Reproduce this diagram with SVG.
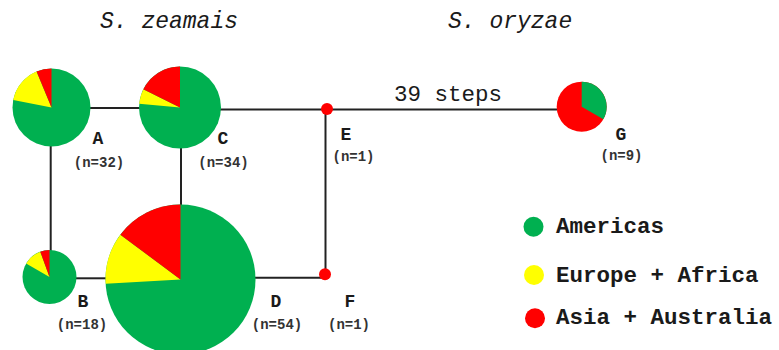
<svg xmlns="http://www.w3.org/2000/svg" width="779" height="350" viewBox="0 0 779 350">
<style>
.g{fill:#00b050}.y{fill:#ffff00}.r{fill:#ff0000}
.ln{stroke:#222;stroke-width:2;fill:none}
.t{font-family:"Liberation Mono","Courier New",monospace;fill:#1a1a1a}
.lab{font-size:18px;font-weight:bold;text-anchor:middle}
.n{font-size:14px;font-weight:bold;text-anchor:middle;fill:#333}
.leg{font-size:22.5px;font-weight:bold}
.ttl{font-size:23px;font-style:italic}
</style>
<rect width="779" height="350" fill="#fff"/>
<text class="t ttl" x="100" y="28">S. zeamais</text>
<text class="t ttl" x="448" y="28">S. oryzae</text>
<g id="connectors">
<line class="ln" x1="90" y1="108" x2="140" y2="108"/>
<line class="ln" x1="220" y1="109.5" x2="557" y2="109.5"/>
<line class="ln" x1="50.7" y1="146" x2="50.7" y2="251"/>
<line class="ln" x1="181" y1="148" x2="181" y2="205"/>
<line class="ln" x1="76" y1="278.3" x2="106" y2="278.3"/>
<line class="ln" x1="255" y1="277.7" x2="325" y2="277.7"/>
<line class="ln" x1="325.5" y1="109" x2="325.5" y2="274"/>
<text class="t" x="448" y="101" font-size="22.5" text-anchor="middle">39 steps</text>
</g>
<g id="node-A">
<circle class="g" cx="51.5" cy="107.5" r="39"/>
<path class="y" d="M51.5,107.5 L13.25,99.89 A39,39 0 0 1 36.58,71.47 Z"/>
<path class="r" d="M51.5,107.5 L36.58,71.47 A39,39 0 0 1 51.5,68.5 Z"/>
<text class="t lab" x="98" y="144">A</text>
<text class="t n" x="99" y="167">(n=32)</text>
</g>
<g id="node-C">
<circle class="g" cx="180" cy="107.5" r="41"/>
<path class="y" d="M180,107.5 L139.17,103.71 A41,41 0 0 1 143.31,89.21 Z"/>
<path class="r" d="M180,107.5 L143.31,89.21 A41,41 0 0 1 180,66.5 Z"/>
<text class="t lab" x="223" y="144">C</text>
<text class="t n" x="223.5" y="167">(n=34)</text>
</g>
<g id="node-B">
<circle class="g" cx="49.5" cy="277" r="27"/>
<path class="y" d="M49.5,277 L26.12,263.5 A27,27 0 0 1 40.27,251.63 Z"/>
<path class="r" d="M49.5,277 L40.27,251.63 A27,27 0 0 1 49.5,250 Z"/>
<text class="t lab" x="83" y="307">B</text>
<text class="t n" x="82" y="329">(n=18)</text>
</g>
<g id="node-D">
<circle class="g" cx="180.5" cy="279.5" r="75"/>
<path class="y" d="M180.5,279.5 L105.63,283.86 A75,75 0 0 1 120.36,234.68 Z"/>
<path class="r" d="M180.5,279.5 L120.36,234.68 A75,75 0 0 1 180.5,204.5 Z"/>
<text class="t lab" x="276" y="307">D</text>
<text class="t n" x="277" y="329">(n=54)</text>
</g>
<g id="node-E">
<circle class="r" cx="327" cy="109" r="6"/>
<text class="t lab" x="346" y="140">E</text>
<text class="t n" x="353.5" y="161">(n=1)</text>
</g>
<g id="node-F">
<circle class="r" cx="325" cy="274.3" r="6"/>
<text class="t lab" x="350" y="307">F</text>
<text class="t n" x="349" y="329">(n=1)</text>
</g>
<g id="node-G">
<circle class="r" cx="581.7" cy="106.7" r="25"/>
<path class="g" d="M581.7,106.7 L581.7,81.7 A25,25 0 0 1 603.35,119.2 Z"/>
<text class="t lab" x="621" y="140">G</text>
<text class="t n" x="621.5" y="160">(n=9)</text>
</g>
<g id="legend">
<circle class="g" cx="533.5" cy="226.7" r="10"/>
<text class="t leg" x="556" y="233">Americas</text>
<circle class="y" cx="534" cy="275" r="10"/>
<text class="t leg" x="556" y="281.5">Europe + Africa</text>
<circle class="r" cx="535" cy="318.3" r="10"/>
<text class="t leg" x="556" y="323.5">Asia + Australia</text>
</g>
</svg>
